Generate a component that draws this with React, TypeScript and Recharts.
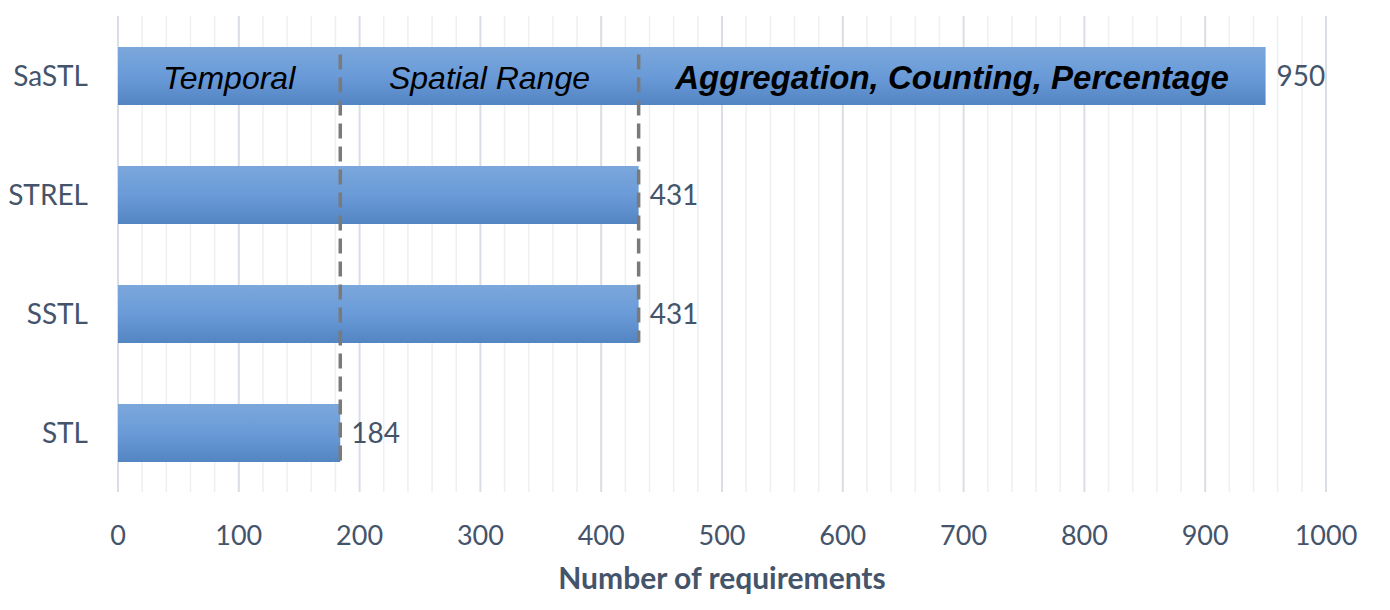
import React from 'react';
import {
    BarChart,
    Bar,
    XAxis,
    YAxis,
    CartesianGrid,
    LabelList,
    ReferenceLine,
    ReferenceDot
} from 'recharts';

const categories = ['SaSTL', 'STREL', 'SSTL', 'STL'];
const requirementCounts = [950, 431, 431, 184];
const xTicks = [0, 100, 200, 300, 400, 500, 600, 700, 800, 900, 1000];

// dashed boundaries: value on x, and the last category the line reaches down to
const boundaries = [
    { value: 184, to: 'STL' },
    { value: 431, to: 'SSTL' }
];

// the three operator groups written inside the SaSTL bar
const sections = [
    { name: 'Temporal', from: 0, to: 184, bold: false },
    { name: 'Spatial Range', from: 184, to: 431, bold: false },
    { name: 'Aggregation, Counting, Percentage', from: 431, to: 950, bold: true }
];

const data = categories.map((name, i) => ({ name, count: requirementCounts[i] }));
const minorTicks = Array.from({ length: 51 }, (_, i) => i * 20).filter(v => v % 100 !== 0);

const TEXT_COLOR = '#44546A';
const FONT = 'Lato, "Open Sans", sans-serif';
const BAR_SIZE = 58;

// recharts 3 may hand over either a d3 scale or a wrapper with map()
const applyScale = (scale: any, v: number) => {
    if (typeof scale === 'function') return scale(v);
    if (scale && typeof scale.map === 'function') return scale.map(v);
    if (scale && typeof scale.scale === 'function') return scale.scale(v);
    return undefined;
};

const XTick = ({ x, y, payload }: any) => (
    <text x={x} y={y} dy={45} textAnchor="middle" fill={TEXT_COLOR} fontSize={27} fontFamily={FONT}>
        {payload.value}
    </text>
);

const YTick = ({ x, y, payload }: any) => (
    <text x={x - 22} y={y} dy={10} textAnchor="end" fill={TEXT_COLOR} fontSize={28} fontFamily={FONT}>
        {payload.value}
    </text>
);

const DashedShape = (props: any) => {
    const { x1, y1, x2, y2 } = props;
    return (
        <line
            x1={x1}
            y1={y1 - BAR_SIZE / 2 + 8}
            x2={x2}
            y2={y2 + BAR_SIZE / 2}
            stroke="#7A7A7A"
            strokeWidth={3.5}
            strokeDasharray="15 8"
        />
    );
};

export default function App() {
    return (
        <div style={{ width: 1390, height: 610 }}>
            <style>{`body { margin: 0; }`}</style>
            <BarChart
                width={1390}
                height={610}
                data={data}
                layout="vertical"
                margin={{ top: 16, right: 64, bottom: 0, left: 0 }}
                barCategoryGap={0}
            >
                <defs>
                    <linearGradient id="barFill" x1="0" y1="0" x2="0" y2="1">
                        <stop offset="0%" stopColor="#7BA7DB" />
                        <stop offset="50%" stopColor="#6A9BD8" />
                        <stop offset="100%" stopColor="#5485C3" />
                    </linearGradient>
                </defs>
                <CartesianGrid
                    horizontal={false}
                    stroke="#EDEFF2"
                    strokeWidth={1.5}
                    verticalCoordinatesGenerator={({ xAxis }: any) =>
                        minorTicks
                            .map(v => applyScale(xAxis?.scale, v))
                            .filter((p: any) => typeof p === 'number' && !isNaN(p))
                    }
                />
                <CartesianGrid horizontal={false} stroke="#D9DEE4" strokeWidth={2} />
                <XAxis
                    type="number"
                    domain={[0, 1000]}
                    ticks={xTicks}
                    axisLine={false}
                    tickLine={false}
                    height={118}
                    tick={<XTick />}
                    interval={0}
                    label={{
                        value: 'Number of requirements',
                        position: 'insideBottom',
                        offset: 21,
                        fill: TEXT_COLOR,
                        fontSize: 30,
                        fontWeight: 700,
                        fontFamily: FONT
                    }}
                />
                <YAxis
                    type="category"
                    dataKey="name"
                    width={118}
                    axisLine={false}
                    tickLine={false}
                    tick={<YTick />}
                />
                <Bar dataKey="count" fill="url(#barFill)" barSize={BAR_SIZE} isAnimationActive={false}>
                    <LabelList
                        dataKey="count"
                        position="right"
                        offset={11}
                        fill={TEXT_COLOR}
                        fontSize={28}
                        fontFamily={FONT}
                    />
                </Bar>
                {boundaries.map(b => (
                    <ReferenceLine
                        key={b.value}
                        segment={[{ x: b.value, y: categories[0] }, { x: b.value, y: b.to }]}
                        shape={<DashedShape />}
                    />
                ))}
                {sections.map(s => (
                    <ReferenceDot
                        key={s.name}
                        x={(s.from + s.to) / 2}
                        y={categories[0]}
                        r={1}
                        fill="none"
                        stroke="none"
                        label={{
                            content: ({ viewBox }: any) => (
                                <text
                                    x={viewBox.x + viewBox.width / 2}
                                    y={viewBox.y + viewBox.height / 2}
                                    dy={13}
                                    textAnchor="middle"
                                    fill="#000"
                                    fontSize={s.bold ? 33 : 32}
                                    fontStyle="italic"
                                    fontWeight={s.bold ? 700 : 400}
                                    fontFamily='"Liberation Sans", Arial, sans-serif'
                                >
                                    {s.name}
                                </text>
                            )
                        }}
                    />
                ))}
            </BarChart>
        </div>
    );
}
